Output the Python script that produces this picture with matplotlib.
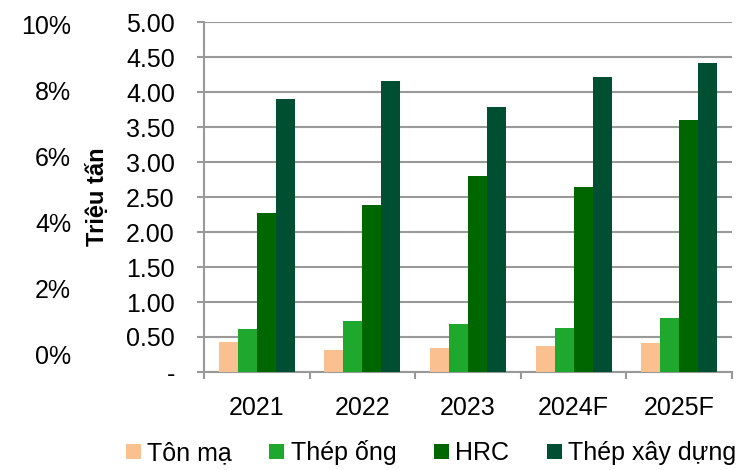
import numpy as np
import matplotlib.pyplot as plt

plt.rcParams['font.family'] = ['Liberation Sans', 'DejaVu Sans']

years = ['2021', '2022', '2023', '2024F', '2025F']
series = ['Tôn mạ', 'Thép ống', 'HRC', 'Thép xây dựng']
ton_ma = [0.43, 0.32, 0.34, 0.37, 0.41]
thep_ong = [0.62, 0.73, 0.69, 0.63, 0.77]
hrc = [2.27, 2.39, 2.80, 2.64, 3.60]
thep_xd = [3.90, 4.16, 3.79, 4.21, 4.41]
pct_ticks = [0, 2, 4, 6, 8, 10]

colors = ['#FAC090', '#1FA82E', '#006600', '#004F33']
values = [ton_ma, thep_ong, hrc, thep_xd]

fig = plt.figure(figsize=(7.43, 4.70), dpi=100)
ax = fig.add_axes([204/743, 1-372/470, 528/743, 350/470])

x = np.arange(len(years))
w = 0.18
for i, (name, vals, c) in enumerate(zip(series, values, colors)):
    ax.bar(x + (i-1.5)*w, vals, w, color=c, label=name, zorder=3)

gray = '#999999'
fs = 18
ax.set_xlim(-0.5, len(years)-0.5)
ax.set_ylim(0, 5)
ax.set_yticks(np.arange(0, 5.01, 0.5))
ax.set_yticklabels(['-'] + [f'{v:.2f}' for v in np.arange(0.5, 5.01, 0.5)])
ax.yaxis.grid(True, color=gray, lw=1.5, zorder=0)
ax.set_xticks(x)
ax.set_xticklabels(years)
ax.set_xticks(np.arange(-0.5, len(years)), minor=True)
ax.tick_params(axis='x', which='major', length=0, pad=17, labelsize=fs)
ax.tick_params(axis='x', which='minor', length=5, width=1.5, color=gray, direction='out')
ax.tick_params(axis='y', length=5, width=1.5, color=gray, pad=16, labelsize=fs)
for s in ['top', 'right']:
    ax.spines[s].set_visible(False)
for s in ['left', 'bottom']:
    ax.spines[s].set_color(gray)
    ax.spines[s].set_linewidth(1.5)
ax.set_ylabel('Triệu tấn', fontsize=17, fontweight='bold')
ax.yaxis.set_label_coords(-0.18, 0.5)

# secondary percent axis on far left
ax2 = fig.add_axes([71/743, 1-355/470, 0.001, 330/470])
ax2.set_ylim(0, 10)
ax2.set_yticks(pct_ticks)
ax2.set_yticklabels([f'{v}%' for v in pct_ticks])
ax2.set_xticks([])
ax2.tick_params(axis='y', length=0, pad=0, labelsize=fs)
for s in ax2.spines.values():
    s.set_visible(False)
ax2.patch.set_visible(False)

fig.legend(loc='lower center', bbox_to_anchor=(0.58, -0.038), ncol=4, frameon=False,
           fontsize=fs, handlelength=0.6, handleheight=0.6, handletextpad=0.25,
           columnspacing=1.5)

fig.savefig('out.png', dpi=100)
